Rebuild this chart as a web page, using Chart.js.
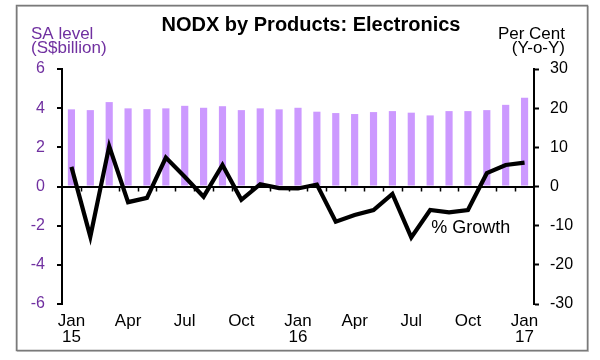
<!DOCTYPE html>
<html>
<head>
<meta charset="utf-8">
<script src="https://cdn.jsdelivr.net/npm/chart.js@4.4.1/dist/chart.umd.min.js"></script>
<style>
html,body{margin:0;padding:0;background:#fff;}
#wrap{position:relative;width:600px;height:360px;}
canvas{display:block;}
</style>
</head>
<body>
<div id="wrap"><canvas id="c" width="600" height="360"></canvas></div>
<script>
// ---- Data ----
const months = ['Jan 15','Feb 15','Mar 15','Apr 15','May 15','Jun 15','Jul 15','Aug 15','Sep 15','Oct 15','Nov 15','Dec 15',
                'Jan 16','Feb 16','Mar 16','Apr 16','May 16','Jun 16','Jul 16','Aug 16','Sep 16','Oct 16','Nov 16','Dec 16',
                'Jan 17'];
const tickLabels = [['Jan','15'],'','','Apr','','','Jul','','','Oct','','',
                    ['Jan','16'],'','','Apr','','','Jul','','','Oct','','',
                    ['Jan','17']];
const saLevel = [3.94, 3.90, 4.31, 3.99, 3.95, 3.99, 4.12, 4.02, 4.10, 3.90, 3.99, 3.94,
                 4.02, 3.82, 3.75, 3.70, 3.80, 3.85, 3.77, 3.63, 3.85, 3.85, 3.90, 4.17,
                 4.53];
const growthYoY = [5.0, -12.8, 10.3, -4.0, -2.9, 7.4, 2.5, -2.6, 5.5, -3.4, 0.6, -0.4,
                   -0.5, 0.5, -9.0, -7.3, -6.0, -1.9, -13.0, -6.0, -6.6, -6.0, 3.4, 5.5,
                   6.1];
const leftAxis = {min: -6, max: 6, step: 2};
const rightAxis = {min: -30, max: 30, step: 10};
const titleText = 'NODX by Products: Electronics';
const leftUnit = ['SA level', '(S$billion)'];
const rightUnit = ['Per Cent', '(Y-o-Y)'];
const lineLabel = '% Growth';
const lineLabelAt = {index: 19, value: -10.6};

// ---- Styles ----
const FONT = "'Liberation Sans', Arial, Helvetica, sans-serif";
const PURPLE = '#7030A0';
const BAR = '#CC99FF';

const decor = {
  id: 'decor',
  beforeDraw(chart) {
    const ctx = chart.ctx;
    ctx.save();
    ctx.strokeStyle = '#c8c8c8';
    ctx.lineWidth = 1;
    ctx.strokeRect(17.5, 6.5, 571, 345);
    ctx.strokeStyle = '#7a7a7a';
    ctx.lineWidth = 1.5;
    ctx.strokeRect(16.5, 5.5, 571, 345);
    ctx.restore();
  },
  beforeDatasetsDraw(chart) {
    // monthly tick marks hanging below the zero line, at category boundaries
    const ctx = chart.ctx, xs = chart.scales.x, ys = chart.scales.y;
    const y0 = ys.getPixelForValue(0);
    const half = (xs.getPixelForValue(1) - xs.getPixelForValue(0)) / 2;
    ctx.save();
    ctx.strokeStyle = '#000';
    ctx.lineWidth = 1.5;
    ctx.beginPath();
    for (let i = 1; i < months.length; i++) {
      const x = Math.round(xs.getPixelForValue(i) - half) + 0.5;
      ctx.moveTo(x, y0);
      ctx.lineTo(x, y0 + 5);
    }
    ctx.stroke();
    ctx.restore();
  },
  afterDraw(chart) {
    const ctx = chart.ctx;
    ctx.save();
    ctx.textBaseline = 'alphabetic';
    ctx.fillStyle = '#000';
    ctx.font = 'bold 20px ' + FONT;
    ctx.textAlign = 'center';
    ctx.fillText(titleText, 311, 31);

    ctx.font = '17px ' + FONT;
    ctx.fillStyle = PURPLE;
    ctx.textAlign = 'left';
    ctx.fillText(leftUnit[0], 31, 39);
    ctx.fillText(leftUnit[1], 31, 53);

    ctx.fillStyle = '#000';
    ctx.textAlign = 'right';
    ctx.fillText(rightUnit[0], 565, 39);
    ctx.fillText(rightUnit[1], 565, 53);

    const xs = chart.scales.x, ys = chart.scales.y2;
    ctx.font = '18px ' + FONT;
    ctx.textAlign = 'left';
    ctx.textBaseline = 'middle';
    ctx.fillText(lineLabel, xs.getPixelForValue(lineLabelAt.index) + 1, ys.getPixelForValue(lineLabelAt.value));
    ctx.restore();
  }
};

new Chart(document.getElementById('c'), {
  data: {
    labels: months,
    datasets: [
      {
        type: 'line', label: lineLabel, data: growthYoY, yAxisID: 'y2', xAxisID: 'x',
        borderColor: '#000', backgroundColor: '#000', borderWidth: 4.2,
        pointRadius: 0, tension: 0, order: 0, borderJoinStyle: 'miter'
      },
      {
        type: 'bar', label: 'SA level', data: saLevel, yAxisID: 'y', xAxisID: 'x',
        backgroundColor: BAR, borderWidth: 0,
        categoryPercentage: 1, barPercentage: 0.38, order: 1
      }
    ]
  },
  options: {
    responsive: false,
    animation: false,
    devicePixelRatio: 1,
    layout: {padding: {top: 69, left: 0, right: 0, bottom: 0}},
    plugins: {legend: {display: false}, title: {display: false}, tooltip: {enabled: false}},
    scales: {
      x: {
        type: 'category', position: 'bottom', offset: true,
        grid: {display: false, drawTicks: false},
        border: {display: false},
        ticks: {
          autoSkip: false, maxRotation: 0, minRotation: 0, padding: 10, color: '#000',
          font: {family: FONT, size: 17, lineHeight: 0.9},
          callback: (v, i) => tickLabels[i]
        },
        afterFit(s) { s.height = 56; }
      },
      y: {
        position: 'left', min: leftAxis.min, max: leftAxis.max,
        ticks: {stepSize: leftAxis.step, padding: 12, color: PURPLE, font: {family: FONT, size: 16}},
        grid: {
          color: c => (c.tick && c.tick.value === 0) ? '#000' : 'rgba(0,0,0,0)',
          lineWidth: 2, tickColor: '#000', tickLength: 5, tickWidth: 2
        },
        border: {display: true, color: '#000', width: 2},
        afterFit(s) { s.width = 62; }
      },
      y2: {
        position: 'right', min: rightAxis.min, max: rightAxis.max,
        ticks: {stepSize: rightAxis.step, padding: 11, color: '#000', font: {family: FONT, size: 16}},
        grid: {drawOnChartArea: false, tickColor: '#000', tickLength: 5, tickWidth: 2},
        border: {display: true, color: '#000', width: 2},
        afterFit(s) { s.width = 66; }
      }
    }
  },
  plugins: [decor]
});
</script>
</body>
</html>
